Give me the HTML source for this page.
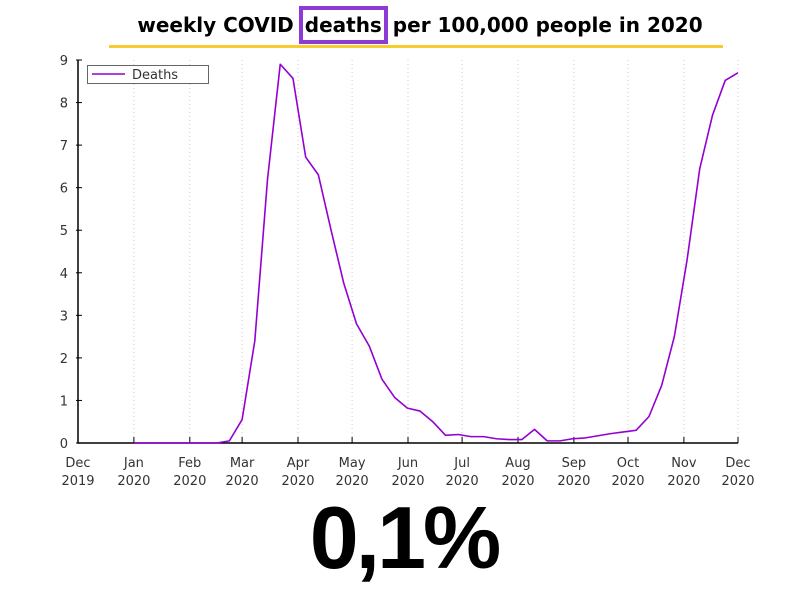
<!DOCTYPE html>
<html><head><meta charset="utf-8"><style>
body{margin:0;width:800px;height:600px;background:#fff;overflow:hidden;font-family:"Liberation Sans",sans-serif;position:relative}
#title{position:absolute;top:13px;left:0;width:840px;text-align:center;font:bold 20px "DejaVu Sans",sans-serif;color:#000;white-space:nowrap}
#hl{border:4px solid #8e3bd6;padding:3px 2px;margin:0 -2px}
#uline{position:absolute;left:109px;top:45px;width:614px;height:3px;background:#f7cc2c}
#big{position:absolute;left:0;width:808px;top:487px;text-align:center;font:bold 88px "Liberation Sans",sans-serif;letter-spacing:-3px;color:#000}
svg{position:absolute;left:0;top:0}
</style></head><body>
<div id="title">weekly COVID <span id="hl">deaths</span> per 100,000 people in 2020</div>
<div id="uline"></div>
<svg id="chart" width="800" height="600"></svg>
<div id="big">0,1%</div>
<script>
const monthLabels=["Dec","Jan","Feb","Mar","Apr","May","Jun","Jul","Aug","Sep","Oct","Nov","Dec"];
const yearLabels=["2019","2020","2020","2020","2020","2020","2020","2020","2020","2020","2020","2020","2020"];
const monthDays=[0,31,62,91,122,152,183,213,244,275,305,336,366];
const yTicks=[0,1,2,3,4,5,6,7,8,9];
const firstDay=31;
const weekStart=34.6, weekStep=7.05;
const deaths=[0,0,0,0,0,0,0,0.05,0.55,2.4,6.2,8.9,8.57,6.72,6.3,5.0,3.75,2.8,2.28,1.5,1.07,0.82,0.75,0.5,0.18,0.2,0.15,0.15,0.1,0.08,0.08,0.32,0.05,0.05,0.1,0.12,0.17,0.22,0.26,0.3,0.62,1.35,2.5,4.3,6.45,7.7,8.52,8.7];
const NS="http://www.w3.org/2000/svg";
const svg=document.getElementById('chart');
const X0=78,X1=738,Y0=443,Y9=60;
const x=d=>X0+(d/366)*(X1-X0);
const y=v=>Y0-(v/9)*(Y0-Y9);
function mk(t,a){const e=document.createElementNS(NS,t);for(const k in a)e.setAttribute(k,a[k]);svg.appendChild(e);return e;}
monthDays.forEach((d,i)=>{
 const g=mk('line',{x1:x(d),x2:x(d),y1:Y9,y2:Y0,stroke:'#ccc','stroke-dasharray':'1,3'});
 
 
 const t=mk('line',{x1:x(d),x2:x(d),y1:Y0,y2:Y0-6,stroke:'#000'});
 
 
 const l=mk('text',{x:x(d),y:467,'text-anchor':'middle','font-size':'13','font-family':'DejaVu Sans, sans-serif',fill:'#333'});
 l.textContent=monthLabels[i];
 
 
 const l2=mk('text',{x:x(d),y:485,'text-anchor':'middle','font-size':'13','font-family':'DejaVu Sans, sans-serif',fill:'#333'});
 l2.textContent=yearLabels[i];
 
 
});
yTicks.forEach(v=>{
 const t=mk('line',{x1:X0-2,x2:X0+4,y1:y(v),y2:y(v),stroke:'#000'});
 
 
 const l=mk('text',{x:68,y:y(v)+5,'text-anchor':'end','font-size':'13','font-family':'DejaVu Sans, sans-serif',fill:'#333'});
 l.textContent=v;
 
 
});
const ax=mk('path',{d:`M${X0} ${Y9}V${Y0}H${X1}`,fill:'none',stroke:'#000','stroke-width':1.5});


const pts=deaths.map((v,i)=>[x(i===0?firstDay:weekStart+i*weekStep),y(v)]);
const ln=mk('polyline',{points:pts.map(p=>p.join(',')).join(' '),fill:'none',stroke:'#9400d3','stroke-width':1.6,'stroke-linejoin':'round'});


const lb=mk('rect',{x:87.5,y:65.5,width:121,height:18,fill:'#fff',stroke:'#666'});


const ls=mk('line',{x1:92,x2:125,y1:74,y2:74,stroke:'#9400d3','stroke-width':1.6});


const lt=mk('text',{x:132,y:79,'font-size':'13','font-family':'DejaVu Sans, sans-serif',fill:'#333'});
lt.textContent='Deaths';


</script>
</body></html>
